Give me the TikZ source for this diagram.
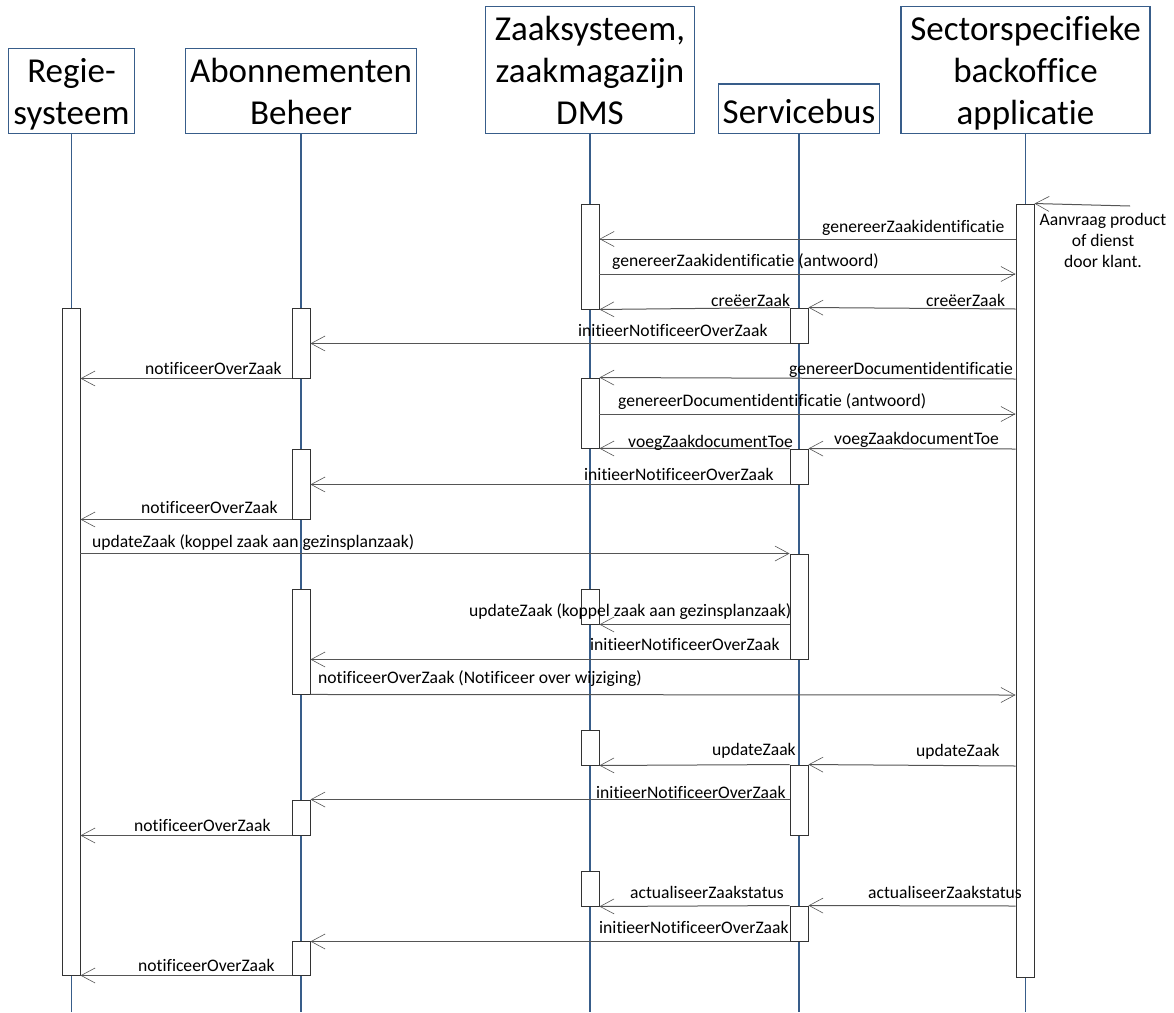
\documentclass[tikz,border=0pt]{standalone}
\usepackage{fontspec}
\setmainfont{Carlito}[Ligatures=NoCommon]
\definecolor{boxblue}{HTML}{385D8A}
\definecolor{msgline}{HTML}{555555}
\usetikzlibrary{arrows.meta}
\newcommand{\hdtop}[1]{\rule{0pt}{#1pt}}
\newcommand{\hdbot}{\rule[-8pt]{0pt}{8pt}}
\tikzset{
  header/.style={draw=boxblue,line width=1.3pt,fill=white,inner sep=0pt,align=center,
    font=\fontsize{35}{42}\selectfont,text=black},
  life/.style={draw=boxblue,line width=1.3pt},
  act/.style={draw=black!80,line width=0.95pt,fill=white,inner sep=0pt,minimum width=18pt},
  msg/.style={draw=msgline,line width=1pt,-{Straight Barb[length=14pt,width=15pt,line width=0.6pt]}},
  lab/.style={anchor=base west,inner sep=0pt,yshift=-1pt,font=\fontsize{17.6}{21}\selectfont,text=black},
}
\begin{document}
\begin{tikzpicture}[x=1pt,y=-1pt]
\useasboundingbox (0,0) rectangle (1174,1012);
% headers
\node[header,minimum width=126.5pt,minimum height=84.5pt] (hR) at (71.5,91) {\hdtop{32}Regie-\\systeem\hdbot};
\node[header,minimum width=231.5pt,minimum height=84.5pt] (hA) at (301,91) {\hdtop{32}Abonnementen\\Beheer\hdbot};
\node[header,minimum width=209.5pt,minimum height=126.5pt] (hZ) at (590,70) {\hdtop{32}Zaaksysteem,\\zaakmagazijn\\DMS\hdbot};
\node[header,minimum width=160.5pt,minimum height=49.5pt] (hS) at (799,108.7) {\hdtop{38}Servicebus\hdbot};
\node[header,minimum width=249pt,minimum height=126.5pt] (hB) at (1025.5,70) {\hdtop{32}Sectorspecifieke\\backoffice\\applicatie\hdbot};
% lifeline ends
\coordinate (eR) at (71.5,1012);
\coordinate (eA) at (301,1012);
\coordinate (eZ) at (590,1012);
\coordinate (eS) at (799,1012);
\coordinate (eB) at (1025.5,1012);
\draw[life] (hR.south) -- (eR);
\draw[life] (hA.south) -- (eA);
\draw[life] (hZ.south) -- (eZ);
\draw[life] (hS.south) -- (eS);
\draw[life] (hB.south) -- (eB);
% activations
\node[act,minimum height=667pt] (aR) at (71,641.5) {};
\node[act,minimum height=70pt] (aA1) at (301,343) {};
\node[act,minimum height=70pt] (aA2) at (301,484) {};
\node[act,minimum height=105pt] (aA3) at (301,641.5) {};
\node[act,minimum height=35pt] (aA4) at (301,817.5) {};
\node[act,minimum height=34pt] (aA5) at (301,958) {};
\node[act,minimum height=105pt] (aZ1) at (590,256.5) {};
\node[act,minimum height=70pt] (aZ2) at (590,413) {};
\node[act,minimum height=35pt] (aZ3) at (590,606.5) {};
\node[act,minimum height=35pt] (aZ4) at (590,747.5) {};
\node[act,minimum height=35pt] (aZ5) at (590,888.5) {};
\node[act,minimum height=35pt] (aS1) at (799,325.5) {};
\node[act,minimum height=35pt] (aS2) at (799,466.5) {};
\node[act,minimum height=105pt] (aS3) at (799,606.5) {};
\node[act,minimum height=70pt] (aS4) at (799,800) {};
\node[act,minimum height=35pt] (aS5) at (799,923.5) {};
\node[act,minimum height=773pt] (aB) at (1025,590.5) {};
% messages
\coordinate (ext) at (1130,206);
\draw[msg] (ext) -- (aB.north east);
\draw[msg] (aB.west |- 0,239) -- (aZ1.east |- 0,239);
\draw[msg] (aZ1.east |- 0,274) -- (aB.west |- 0,274);
\draw[msg] (aB.west |- 0,309) -- (aS1.north east);
\draw[msg] (aS1.north west) -- (aZ1.south east);
\draw[msg] (aS1.south west) -- (aA1.east |- aS1.south);
\draw[msg] (aA1.south west) -- (aR.east |- aA1.south);
\draw[msg] (aB.west |- 0,379) -- (aZ2.north east);
\draw[msg] (aZ2.east |- 0,414) -- (aB.west |- 0,414);
\draw[msg] (aB.west |- 0,449) -- (aS2.north east);
\draw[msg] (aS2.north west) -- (aZ2.south east);
\draw[msg] (aS2.south west) -- (aA2.east |- aS2.south);
\draw[msg] (aA2.south west) -- (aR.east |- aA2.south);
\draw[msg] (aR.east |- aS3.north) -- (aS3.north west);
\draw[msg] (aS3.west |- aZ3.south) -- (aZ3.south east);
\draw[msg] (aS3.south west) -- (aA3.east |- aS3.south);
\draw[msg] (aA3.south east) -- (aB.west |- 0,695);
\draw[msg] (aB.west |- 0,766) -- (aS4.north east);
\draw[msg] (aS4.north west) -- (aZ4.south east);
\draw[msg] (aS4.west |- aA4.north) -- (aA4.north east);
\draw[msg] (aA4.south west) -- (aR.east |- aA4.south);
\draw[msg] (aB.west |- 0,906) -- (aS5.north east);
\draw[msg] (aS5.north west) -- (aZ5.south east);
\draw[msg] (aS5.south west) -- (aA5.east |- aS5.south);
\draw[msg] (aA5.south west) -- (aR.east |- aA5.south);
% labels
\node[lab] (l1) at (822,231) {genereerZaakidentificatie};
\node[lab] (l2) at (612,265) {genereerZaakidentificatie (antwoord)};
\node[lab] (l3) at (711,305) {creëerZaak};
\node[lab] (l4) at (926,305) {creëerZaak};
\node[lab] (l5) at (578,335) {initieerNotificeerOverZaak};
\node[lab] (l6) at (145,373) {notificeerOverZaak};
\node[lab] (l7) at (789,373) {genereerDocumentidentificatie};
\node[lab] (l8) at (618,405) {genereerDocumentidentificatie (antwoord)};
\node[lab] (l9) at (628,446) {voegZaakdocumentToe};
\node[lab] (l10) at (834,443) {voegZaakdocumentToe};
\node[lab] (l11) at (584,479) {initieerNotificeerOverZaak};
\node[lab] (l12) at (141,512) {notificeerOverZaak};
\node[lab] (l13) at (92,546) {updateZaak (koppel zaak aan gezinsplanzaak)};
\node[lab] (l14) at (469,615) {updateZaak (koppel zaak aan gezinsplanzaak)};
\node[lab] (l15) at (590,649) {initieerNotificeerOverZaak};
\node[lab] (l16) at (318,682) {notificeerOverZaak (Notificeer over wijziging)};
\node[lab] (l17) at (712,754) {updateZaak};
\node[lab] (l18) at (916,755) {updateZaak};
\node[lab] (l19) at (596,797) {initieerNotificeerOverZaak};
\node[lab] (l20) at (134,830) {notificeerOverZaak};
\node[lab] (l21) at (630,897) {actualiseerZaakstatus};
\node[lab] (l22) at (868,897) {actualiseerZaakstatus};
\node[lab] (l23) at (599,932) {initieerNotificeerOverZaak};
\node[lab] (l24) at (138,970) {notificeerOverZaak};
\node[inner sep=0pt,align=center,font=\fontsize{17.6}{21}\selectfont] (note) at (1103,240) {Aanvraag product\\of dienst\\door klant.};
\end{tikzpicture}
\end{document}
